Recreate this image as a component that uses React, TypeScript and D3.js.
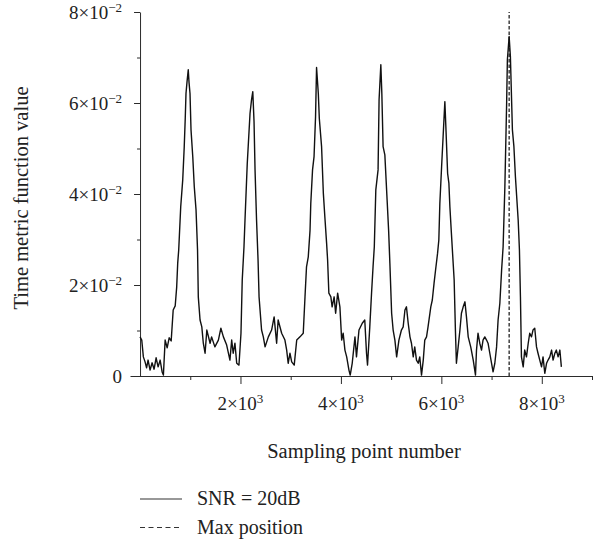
import React, { useEffect, useRef } from 'react'
import * as d3 from 'd3'

// sampling point index, time metric value (x 1e-2)
const trace: [number, number][] = [
  [0, 0.86], [34, 0.79], [66, 0.42], [100, 0.31], [130, 0.18], [160, 0.35], [200, 0.13], [240, 0.29],
  [280, 0.15], [320, 0.4], [360, 0.2], [400, 0.35], [440, 0.09], [465, 0.02], [500, 0.79], [540, 0.62],
  [580, 0.84], [620, 0.77], [660, 1.45], [700, 1.54], [730, 1.96], [750, 2.48],
  // peak 1
  [770, 2.77], [810, 3.72], [850, 4.31], [880, 5.04], [900, 5.66], [915, 6.21], [935, 6.46], [960, 6.73],
  [975, 6.46], [995, 6.21], [1015, 5.41], [1050, 4.82], [1080, 4.16], [1115, 3.65], [1145, 2.77],
  [1160, 1.74], [1195, 1.23], [1230, 1.08], [1260, 0.72], [1295, 0.5], [1330, 1.01], [1395, 0.72],
  [1425, 0.86], [1490, 0.64], [1560, 0.79], [1610, 1.05], [1660, 0.86], [1725, 0.68], [1790, 0.35],
  [1825, 0.79], [1855, 0.5], [1890, 0.72], [1925, 0.28], [1970, 0.24], [2010, 0.94], [2035, 2.11],
  [2070, 2.84],
  // peak 2
  [2090, 3.43], [2135, 4.67], [2190, 5.77], [2220, 6.07], [2245, 6.25], [2270, 5.59], [2290, 4.53],
  [2320, 3.43], [2350, 2.55], [2370, 1.74], [2420, 1.01], [2455, 0.86], [2490, 0.64], [2555, 0.86],
  [2620, 1.01], [2670, 1.3], [2720, 0.72], [2750, 1.23], [2820, 0.94], [2885, 0.79], [2920, 0.57],
  [2950, 0.28], [2985, 0.5], [3020, 0.31], [3070, 0.24], [3120, 0.79], [3185, 0.86], [3250, 0.94],
  [3285, 1.74], [3315, 2.4], [3350, 2.62],
  // peak 3
  [3385, 3.2], [3400, 3.79], [3435, 4.53], [3465, 4.82], [3495, 5.7], [3515, 6.78], [3550, 6.21],
  [3570, 5.66], [3615, 5.04], [3650, 4.02], [3680, 3.5], [3715, 2.92], [3735, 2.55], [3760, 1.82],
  [3800, 1.74], [3825, 1.52], [3865, 1.74], [3895, 1.38], [3935, 1.82], [3980, 1.52], [4015, 0.79],
  [4045, 0.94], [4080, 0.57], [4115, 0.42], [4160, 0.13], [4185, 0.02], [4225, 0.28], [4280, 0.86],
  [4310, 0.42], [4360, 1.01], [4425, 1.16], [4475, 1.23], [4510, 0.5], [4530, 0.24], [4575, 1.08],
  [4610, 1.82], [4640, 2.4],
  // peak 4
  [4665, 2.84], [4695, 4.09], [4740, 4.53], [4760, 6.07], [4795, 6.84], [4815, 6.21], [4840, 5.04],
  [4875, 4.86], [4920, 3.87], [4950, 3.2], [4975, 2.48], [5010, 1.38], [5040, 1.01], [5075, 0.79],
  [5110, 0.42], [5155, 0.79], [5205, 1.01], [5240, 1.08], [5275, 1.45], [5305, 1.52], [5340, 1.16],
  [5375, 0.86], [5405, 0.72], [5440, 0.42], [5470, 0.64], [5505, 0.35], [5540, 0.28], [5570, 0.42],
  [5605, 0.02], [5640, 0.35], [5670, 0.79], [5705, 0.86], [5735, 1.08], [5790, 1.52], [5820, 1.67],
  [5855, 2.04], [5885, 2.33], [5925, 2.7], [5950, 2.99],
  // peak 5
  [5970, 3.79], [6005, 4.6], [6035, 5.26], [6070, 6.03], [6090, 5.48], [6125, 4.45], [6150, 4.24],
  [6170, 3.72], [6200, 3.14], [6255, 2.11], [6280, 1.01], [6300, 0.28], [6335, 0.64], [6370, 1.01],
  [6400, 1.38], [6435, 1.52], [6470, 1.63], [6500, 1.3], [6535, 0.86], [6585, 0.64], [6635, 0.35],
  [6680, 0.02], [6700, 0.57], [6730, 0.94], [6765, 0.72], [6800, 0.57], [6830, 0.79], [6865, 0.86],
  [6900, 0.79], [6930, 0.72], [6965, 0.5], [7000, 0.28], [7030, 0.09], [7065, 0.28], [7100, 0.64],
  [7130, 1.23], [7165, 1.6], [7200, 2.33],
  // peak 6 (max)
  [7230, 2.84], [7265, 4.16], [7300, 5.99], [7315, 6.95], [7350, 7.46], [7375, 7.02], [7415, 5.41],
  [7445, 5.04], [7475, 4.38], [7530, 3.43], [7555, 2.77], [7575, 1.74], [7595, 0.42], [7630, 0.2],
  [7660, 0.57], [7695, 0.42], [7730, 0.72], [7760, 0.94], [7795, 0.86], [7825, 1.01], [7860, 1.05],
  [7895, 0.64], [7925, 0.5], [7960, 0.35], [7995, 0.2], [8025, 0.42], [8060, 0.06], [8095, 0.28],
  [8125, 0.35], [8160, 0.42], [8195, 0.57], [8225, 0.35], [8260, 0.5], [8290, 0.57], [8325, 0.42],
  [8360, 0.57], [8390, 0.2],
]

const maxPosition = 7350
const xMajorTicks = [2000, 4000, 6000, 8000]
const xMinorTicks = [1000, 3000, 5000, 7000, 9000]
const yMajorTicks = [0, 2, 4, 6, 8]
const yMinorTicks = [1, 3, 5, 7]
const legendLabels = ['SNR = 20dB', 'Max position']

const W = 606
const H = 539
const FONT = '"Liberation Serif", "Times New Roman", serif'
const AXIS_COLOR = '#2b2b2b'

export default function App() {
  const ref = useRef<SVGSVGElement>(null)

  useEffect(() => {
    const svg = d3.select(ref.current)
    svg.selectAll('*').remove()

    const x = d3.scaleLinear().domain([-200, 9000]).range([130, 592])
    const y = d3.scaleLinear().domain([0, 8]).range([376, 12])

    // x axis: major + minor ticks, labels drawn separately (superscripts)
    const gx = svg.append('g').attr('transform', 'translate(0,' + y(0) + ')')
    gx.call(d3.axisBottom(x).tickValues(xMajorTicks).tickSize(8).tickSizeOuter(0).tickFormat(() => ''))
    gx.call(g => g.append('g').call(d3.axisBottom(x).tickValues(xMinorTicks).tickSize(4).tickFormat(() => '')).select('.domain').remove())

    // y axis sits at sample 0
    const gy = svg.append('g').attr('transform', 'translate(' + x(0) + ',0)')
    gy.call(d3.axisLeft(y).tickValues(yMajorTicks).tickSize(6).tickSizeOuter(0).tickFormat(() => ''))
    gy.call(g => g.append('g').call(d3.axisLeft(y).tickValues(yMinorTicks).tickSize(3).tickFormat(() => '')).select('.domain').remove())

    svg.selectAll('.domain, .tick line').attr('stroke', AXIS_COLOR).attr('stroke-width', 1)

    // x tick labels  n×10³
    xMajorTicks.forEach(v => {
      const t = svg.append('text')
        .attr('x', x(v))
        .attr('y', 410)
        .attr('text-anchor', 'middle')
        .attr('font-family', FONT)
        .attr('font-size', 19)
        .attr('fill', '#222')
      t.append('tspan').text(v / 1000 + '×10')
      t.append('tspan').attr('dy', -7).attr('font-size', 13).text('3')
    })

    // y tick labels  n×10⁻²
    yMajorTicks.forEach(v => {
      const t = svg.append('text')
        .attr('x', 122)
        .attr('y', y(v) + 7)
        .attr('text-anchor', 'end')
        .attr('font-family', FONT)
        .attr('font-size', 19)
        .attr('fill', '#222')
      if (v === 0) {
        t.text('0')
      } else {
        t.append('tspan').text(v + '×10')
        t.append('tspan').attr('dy', -7).attr('font-size', 13).text('\u22122')
      }
    })

    // axis titles
    svg.append('text')
      .attr('x', 364)
      .attr('y', 458)
      .attr('text-anchor', 'middle')
      .attr('font-family', FONT)
      .attr('font-size', 20.5)
      .attr('fill', '#222')
      .text('Sampling point number')

    svg.append('text')
      .attr('transform', 'translate(28,198) rotate(-90)')
      .attr('text-anchor', 'middle')
      .attr('font-family', FONT)
      .attr('font-size', 20.5)
      .attr('fill', '#222')
      .text('Time metric function value')

    // the trace
    const line = d3.line<[number, number]>()
      .x(d => x(d[0]))
      .y(d => y(d[1]))

    svg.append('path')
      .datum(trace)
      .attr('d', line)
      .attr('fill', 'none')
      .attr('stroke', '#111')
      .attr('stroke-width', 1.4)
      .attr('stroke-linejoin', 'round')

    // max position marker
    svg.append('line')
      .attr('x1', x(maxPosition))
      .attr('x2', x(maxPosition))
      .attr('y1', y(0))
      .attr('y2', y(8))
      .attr('stroke', '#111')
      .attr('stroke-width', 1.2)
      .attr('stroke-dasharray', '3.5,2')

    // legend
    const legend = svg.append('g').attr('font-family', FONT).attr('font-size', 20).attr('fill', '#222')
    legendLabels.forEach((label, i) => {
      const ly = 499 + i * 28.5
      legend.append('line')
        .attr('x1', 140)
        .attr('x2', 182)
        .attr('y1', ly)
        .attr('y2', ly)
        .attr('stroke', '#333')
        .attr('stroke-width', 1.2)
        .attr('stroke-dasharray', i === 1 ? '5,3.5' : null)
      legend.append('text')
        .attr('x', 197)
        .attr('y', ly + 6)
        .text(label)
    })
  }, [])

  return (
    <svg
      ref={ref}
      width={W}
      height={H}
      style={{ position: 'absolute', left: 0, top: 0, background: '#fff' }}
    />
  )
}
